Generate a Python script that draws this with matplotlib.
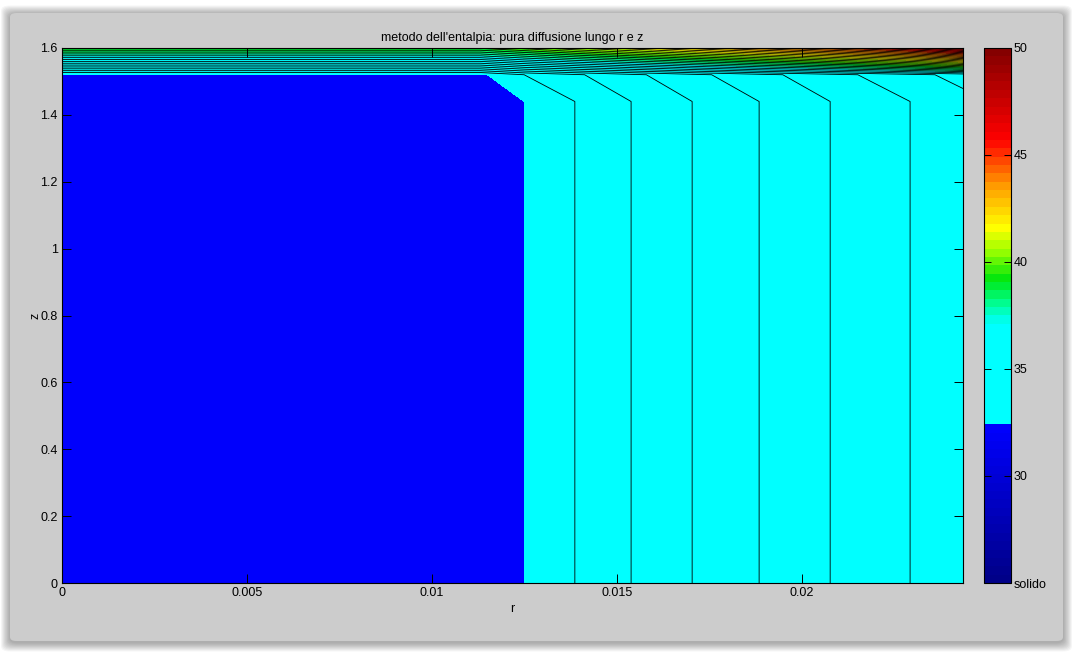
import numpy as np
import matplotlib
matplotlib.use("Agg")
import matplotlib.pyplot as plt
from matplotlib.colors import ListedColormap, Normalize
from matplotlib.cm import ScalarMappable
from matplotlib.patches import FancyBboxPatch

plt.rcParams['font.family'] = ['Liberation Sans', 'DejaVu Sans']

# --- solution grid: radius r [m] and height z [m] ---------------------------
r_nodes = [0.0, 0.0113, 0.01249, 0.01386, 0.01538, 0.01703, 0.01884, 0.02076, 0.02292, 0.02435]
z_nodes = [0.0, 1.44, 1.52, 1.60]

# temperature at the nodes, one row per z node
T_bulk = [32.0, 32.4, 32.5, 33.0, 33.5, 34.0, 34.5, 35.0, 35.5, 35.83]    # z = 0 ... 1.44
T_z152 = [32.4, 32.4, 33.0, 33.42, 33.88, 34.36, 34.84, 35.32, 35.84, 36.18]
T_z160 = [39.6, 39.6, 40.2, 41.0, 41.8, 42.7, 43.7, 44.8, 46.2, 47.5]

# contour levels (melting at 32.5) and colour scale
T_melt = 32.5
level_step = 0.5
T_min, T_max = 25.0, 50.0
cbar_ticks = [25, 30, 35, 40, 45, 50]
cbar_labels = ['solido', '30', '35', '40', '45', '50']

x_ticks = [0, 0.005, 0.01, 0.015, 0.02]
x_ticklabels = ['0', '0.005', '0.01', '0.015', '0.02']
y_ticks = [0, 0.2, 0.4, 0.6, 0.8, 1.0, 1.2, 1.4, 1.6]
y_ticklabels = ['0', '0.2', '0.4', '0.6', '0.8', '1', '1.2', '1.4', '1.6']

title = "metodo dell'entalpia: pura diffusione lungo r e z"
FS = 9

# --- colormap: dark blue -> blue for the solid, cyan -> dark red for the liquid
anchors = [
    (25.0, (0.0, 0.0, 0.52)),
    (32.4, (0.0, 0.0, 1.0)),
    (32.41, (0.0, 1.0, 1.0)),
    (37.1, (0.0, 1.0, 1.0)),
    (38.0, (0.0, 1.0, 0.6)),
    (39.2, (0.0, 0.9, 0.05)),
    (40.5, (0.6, 1.0, 0.0)),
    (41.6, (1.0, 1.0, 0.0)),
    (43.6, (1.0, 0.6, 0.0)),
    (45.7, (1.0, 0.0, 0.0)),
    (50.0, (0.5, 0.0, 0.0)),
]
av = np.array([a[0] for a in anchors])
ac = np.array([a[1] for a in anchors])
centers = T_min + (np.arange(64) + 0.5) * (T_max - T_min) / 64
cmap_colors = np.column_stack([np.interp(centers, av, ac[:, i]) for i in range(3)])
cmap = ListedColormap(cmap_colors)
norm = Normalize(T_min, T_max)

# --- temperature field on the grid ----------------------------------------
R, Z = np.meshgrid(r_nodes, z_nodes)
T = np.array([T_bulk, T_bulk, T_z152, T_z160])

levels = np.concatenate([[T_min], np.arange(T_melt, T_max + 1e-9, level_step)])
fill_colors = [cmap(norm(T_melt - 0.2))] + [cmap(norm(v)) for v in levels[1:-1]]
line_levels = levels[2:-1]

# --- figure ----------------------------------------------------------------
W, H = 1073, 653
fig = plt.figure(figsize=(W / 100, H / 100), dpi=100, facecolor='white')

# grey window panel with a soft shadow
px0, py0, px1, py1 = 10, 13, 1063, 641
fx, fy = px0 / W, (H - py1) / H
fw, fh = (px1 - px0) / W, (py1 - py0) / H
for i in range(10, 0, -1):
    d = i * 0.9
    fig.patches.append(FancyBboxPatch(
        ((px0 - d) / W, (H - py1 - d - 1.5) / H), (px1 - px0 + 2 * d) / W, (py1 - py0 + 2 * d) / H,
        boxstyle="round,pad=0,rounding_size=0.008", transform=fig.transFigure,
        facecolor='black', edgecolor='none', alpha=0.035, zorder=0))
fig.patches.append(FancyBboxPatch(
    (fx, fy), fw, fh, boxstyle="round,pad=0,rounding_size=0.006",
    transform=fig.transFigure, facecolor=(0.8, 0.8, 0.8), edgecolor='none', zorder=1))

ax = fig.add_axes([62 / W, (H - 583) / H, (963 - 62) / W, (583 - 48) / H])
ax.set_zorder(2)
ax.contourf(R, Z, T, levels=levels, colors=fill_colors)
ax.contour(R, Z, T, levels=line_levels, colors='black', linewidths=0.6)

ax.set_xlim(0, r_nodes[-1])
ax.set_ylim(0, z_nodes[-1])
ax.set_xticks(x_ticks)
ax.set_xticklabels(x_ticklabels)
ax.set_yticks(y_ticks)
ax.set_yticklabels(y_ticklabels)
ax.tick_params(direction='in', length=6.5, width=0.7, top=True, right=True,
               labelsize=FS, pad=3, colors='black')
for s in ax.spines.values():
    s.set_linewidth(0.8)
ax.set_xlabel('r', fontsize=FS, labelpad=3)
ax.set_ylabel('z', fontsize=FS)
ax.yaxis.set_label_coords(-0.0233, 0.5)
ax.set_title(title, fontsize=FS, pad=5)

cax = fig.add_axes([984 / W, (H - 583) / H, 27 / W, (583 - 48) / H])
cax.set_zorder(2)
cb = fig.colorbar(ScalarMappable(norm=norm, cmap=cmap), cax=cax)
cb.set_ticks(cbar_ticks)
cb.set_ticklabels(cbar_labels)
cb.outline.set_linewidth(0.8)
cax.tick_params(direction='in', length=5, width=0.7, left=True, right=True,
                labelsize=FS, pad=2)

fig.savefig('out.png', dpi=100, facecolor='white')
